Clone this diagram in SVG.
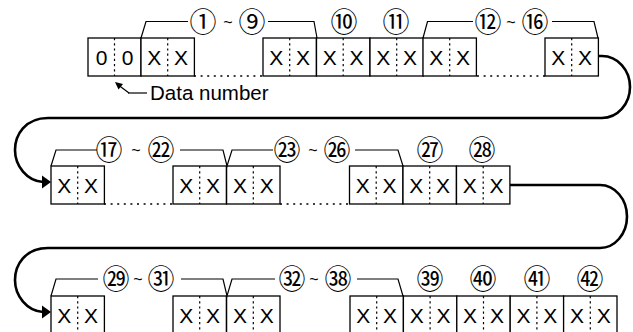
<svg xmlns="http://www.w3.org/2000/svg" width="633" height="332" viewBox="0 0 633 332">
<style>
.box{fill:#fff;stroke:#000;stroke-width:1.3}
.div{stroke:#000;stroke-width:1.2;stroke-dasharray:2.2,3}
.dot{stroke:#000;stroke-width:1.5;stroke-dasharray:2,4.6;fill:none}
.br{fill:none;stroke:#000;stroke-width:1.2}
.x{font-family:"Liberation Sans",Arial,sans-serif;font-size:21px;text-anchor:middle;fill:#000}
.c{font-family:"Noto Sans CJK JP","DejaVu Sans",sans-serif;font-size:27px;text-anchor:middle;fill:#000}
.t{font-family:"Liberation Sans",Arial,sans-serif;font-size:16px;text-anchor:middle;fill:#000}
.lbl{font-family:"Liberation Sans",Arial,sans-serif;font-size:20.5px;fill:#000}
.con{fill:none;stroke:#000;stroke-width:2.6}
</style>
<defs>
<g id="cell">
<rect class="box" x="0" y="0" width="53.4" height="38"/>
<line class="div" x1="26.7" y1="0" x2="26.7" y2="38"/>
<text class="x" x="13.3" y="27">X</text>
<text class="x" x="40.1" y="27">X</text>
</g>
</defs>

<g id="connectors">
<path class="con" d="M598,56 H602 A28,31 0 0 1 602,118 H48 C25,118 15,135 15,150 C15,166 27,181 43,182"/>
<polygon points="51,182 42,175.5 42,188.5" fill="#000"/>
<path class="con" d="M510,185 H600 A27,31.5 0 0 1 600,248 H48 C25,248 15,265 15,280 C15,296 27,311 43,312"/>
<polygon points="51,312 42,305.5 42,318.5" fill="#000"/>
<line class="dot" x1="194" y1="76" x2="263" y2="76"/>
<line class="dot" x1="477" y1="76" x2="545" y2="76"/>
<line class="dot" x1="104" y1="204" x2="173" y2="204"/>
<line class="dot" x1="280" y1="204" x2="349" y2="204"/>
</g>

<!-- Row 1 -->
<g id="data-number-cell">
<rect class="box" x="88" y="38" width="53" height="38"/>
<line class="div" x1="114.5" y1="38" x2="114.5" y2="76"/>
<text class="x" x="101.5" y="65">0</text>
<text class="x" x="127.5" y="65">0</text>
</g>
<g id="data-number-label">
<path class="br" d="M129,93 L119,85.5" stroke-width="1.5"/>
<polygon points="115,82 123,84 118.5,89.5" fill="#000"/>
<path class="br" d="M128,93 H147" stroke-width="1.5"/>
<text class="lbl" x="150" y="100">Data number</text>
</g>
<g id="r1-cells">
<use href="#cell" x="141" y="38"/>
<use href="#cell" x="263" y="38"/>
<use href="#cell" x="316.5" y="38"/>
<use href="#cell" x="370" y="38"/>
<use href="#cell" x="423" y="38"/>
<use href="#cell" x="545" y="38"/>
</g>
<g id="r1-labels">
<path class="br" d="M141,38 L146,21.5 H188 M268,21.5 H314 L317,38"/>
<text class="c" x="203" y="32">①</text><text class="t" x="228" y="28">~</text><text class="c" x="252" y="32">⑨</text>
<text class="c" x="344" y="32">⑩</text>
<text class="c" x="396" y="32">⑪</text>
<path class="br" d="M423,38 L427.5,21.5 H473 M552,21.5 H594 L598,38"/>
<text class="c" x="488" y="32">⑫</text><text class="t" x="511" y="28">~</text><text class="c" x="535" y="32">⑯</text>
</g>

<!-- Row 2 -->
<g id="r2-cells">
<use href="#cell" x="51" y="166"/>
<use href="#cell" x="173" y="166"/>
<use href="#cell" x="226.6" y="166"/>
<use href="#cell" x="349.5" y="166"/>
<use href="#cell" x="403" y="166"/>
<use href="#cell" x="456.5" y="166"/>
</g>
<g id="r2-labels">
<path class="br" d="M51,166 L56,150 H97 M180,150 H223 L227,166 L232,150 H273 M355,150 H398 L403,166"/>
<text class="c" x="109" y="160">⑰</text><text class="t" x="136" y="156">~</text><text class="c" x="161" y="160">㉒</text>
<text class="c" x="287" y="160">㉓</text><text class="t" x="313" y="156">~</text><text class="c" x="337" y="160">㉖</text>
<text class="c" x="430" y="160">㉗</text>
<text class="c" x="482" y="160">㉘</text>
</g>

<!-- Row 3 -->
<g id="r3-cells">
<use href="#cell" x="51" y="296"/>
<use href="#cell" x="173" y="296"/>
<use href="#cell" x="226.6" y="296"/>
<use href="#cell" x="350" y="296"/>
<use href="#cell" x="403.4" y="296"/>
<use href="#cell" x="456.8" y="296"/>
<use href="#cell" x="510.2" y="296"/>
<use href="#cell" x="563.6" y="296"/>
</g>
<g id="r3-labels">
<path class="br" d="M51,296 L56,279 H98 M181,279 H223 L227,296 L232,279 H275 M357,279 H398 L403,296"/>
<text class="c" x="116" y="289">㉙</text><text class="t" x="138" y="285">~</text><text class="c" x="161" y="289">㉛</text>
<text class="c" x="292" y="289">㉜</text><text class="t" x="314" y="285">~</text><text class="c" x="338" y="289">㊳</text>
<text class="c" x="430" y="289">㊴</text>
<text class="c" x="483" y="289">㊵</text>
<text class="c" x="537" y="289">㊶</text>
<text class="c" x="590" y="289">㊷</text>
</g>
</svg>
